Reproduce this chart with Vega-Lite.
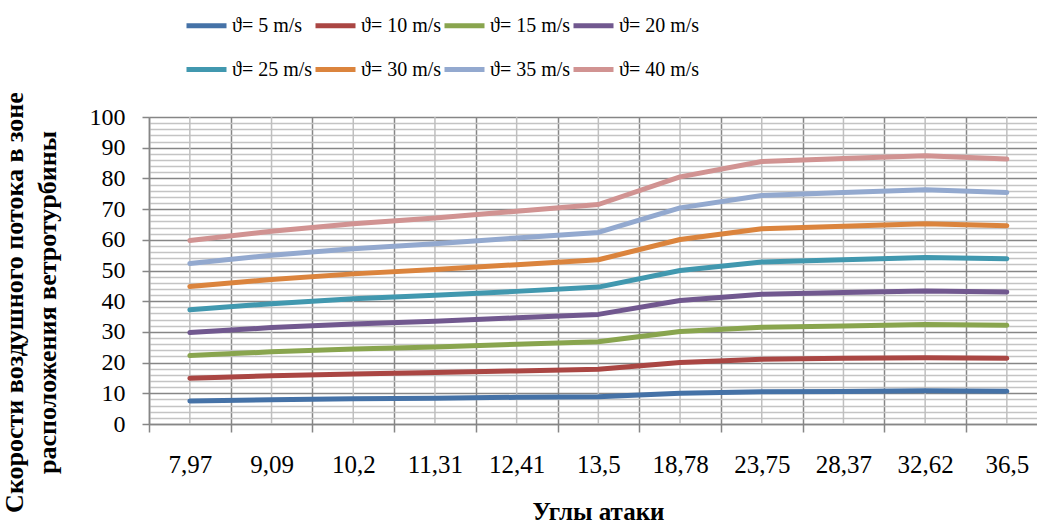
{
  "$schema": "https://vega.github.io/schema/vega-lite/v6.json",
  "autosize": "none",
  "padding": {"left": 149, "top": 117, "right": 0, "bottom": 100},
  "width": 888,
  "height": 307,
  "background": "white",
  "config": {
    "view": {"stroke": null},
    "font": "Liberation Serif",
    "axis": {"labelFont": "Liberation Serif", "titleFont": "Liberation Serif"},
    "legend": {"labelFont": "Liberation Serif, DejaVu Serif, serif"}
  },
  "datasets": {
    "angles": [
      {"angle": "7,97"}, {"angle": "9,09"}, {"angle": "10,2"}, {"angle": "11,31"},
      {"angle": "12,41"}, {"angle": "13,5"}, {"angle": "18,78"}, {"angle": "23,75"},
      {"angle": "28,37"}, {"angle": "32,62"}, {"angle": "36,5"}
    ],
    "speeds": [
      {"angle": "7,97", "series": "ϑ= 5 m/s", "v": 7.5},
      {"angle": "9,09", "series": "ϑ= 5 m/s", "v": 7.9},
      {"angle": "10,2", "series": "ϑ= 5 m/s", "v": 8.2},
      {"angle": "11,31", "series": "ϑ= 5 m/s", "v": 8.4},
      {"angle": "12,41", "series": "ϑ= 5 m/s", "v": 8.7},
      {"angle": "13,5", "series": "ϑ= 5 m/s", "v": 8.9},
      {"angle": "18,78", "series": "ϑ= 5 m/s", "v": 10.0},
      {"angle": "23,75", "series": "ϑ= 5 m/s", "v": 10.5},
      {"angle": "28,37", "series": "ϑ= 5 m/s", "v": 10.6},
      {"angle": "32,62", "series": "ϑ= 5 m/s", "v": 10.8},
      {"angle": "36,5", "series": "ϑ= 5 m/s", "v": 10.7},

      {"angle": "7,97", "series": "ϑ= 10 m/s", "v": 14.9},
      {"angle": "9,09", "series": "ϑ= 10 m/s", "v": 15.7},
      {"angle": "10,2", "series": "ϑ= 10 m/s", "v": 16.3},
      {"angle": "11,31", "series": "ϑ= 10 m/s", "v": 16.8},
      {"angle": "12,41", "series": "ϑ= 10 m/s", "v": 17.3},
      {"angle": "13,5", "series": "ϑ= 10 m/s", "v": 17.8},
      {"angle": "18,78", "series": "ϑ= 10 m/s", "v": 20.0},
      {"angle": "23,75", "series": "ϑ= 10 m/s", "v": 21.1},
      {"angle": "28,37", "series": "ϑ= 10 m/s", "v": 21.4},
      {"angle": "32,62", "series": "ϑ= 10 m/s", "v": 21.6},
      {"angle": "36,5", "series": "ϑ= 10 m/s", "v": 21.4},

      {"angle": "7,97", "series": "ϑ= 15 m/s", "v": 22.3},
      {"angle": "9,09", "series": "ϑ= 15 m/s", "v": 23.5},
      {"angle": "10,2", "series": "ϑ= 15 m/s", "v": 24.4},
      {"angle": "11,31", "series": "ϑ= 15 m/s", "v": 25.1},
      {"angle": "12,41", "series": "ϑ= 15 m/s", "v": 26.0},
      {"angle": "13,5", "series": "ϑ= 15 m/s", "v": 26.8},
      {"angle": "18,78", "series": "ϑ= 15 m/s", "v": 30.1},
      {"angle": "23,75", "series": "ϑ= 15 m/s", "v": 31.5},
      {"angle": "28,37", "series": "ϑ= 15 m/s", "v": 31.9},
      {"angle": "32,62", "series": "ϑ= 15 m/s", "v": 32.4},
      {"angle": "36,5", "series": "ϑ= 15 m/s", "v": 32.2},

      {"angle": "7,97", "series": "ϑ= 20 m/s", "v": 29.8},
      {"angle": "9,09", "series": "ϑ= 20 m/s", "v": 31.4},
      {"angle": "10,2", "series": "ϑ= 20 m/s", "v": 32.6},
      {"angle": "11,31", "series": "ϑ= 20 m/s", "v": 33.5},
      {"angle": "12,41", "series": "ϑ= 20 m/s", "v": 34.6},
      {"angle": "13,5", "series": "ϑ= 20 m/s", "v": 35.7},
      {"angle": "18,78", "series": "ϑ= 20 m/s", "v": 40.2},
      {"angle": "23,75", "series": "ϑ= 20 m/s", "v": 42.3},
      {"angle": "28,37", "series": "ϑ= 20 m/s", "v": 42.8},
      {"angle": "32,62", "series": "ϑ= 20 m/s", "v": 43.3},
      {"angle": "36,5", "series": "ϑ= 20 m/s", "v": 43.0},

      {"angle": "7,97", "series": "ϑ= 25 m/s", "v": 37.2},
      {"angle": "9,09", "series": "ϑ= 25 m/s", "v": 39.2},
      {"angle": "10,2", "series": "ϑ= 25 m/s", "v": 40.8},
      {"angle": "11,31", "series": "ϑ= 25 m/s", "v": 41.9},
      {"angle": "12,41", "series": "ϑ= 25 m/s", "v": 43.2},
      {"angle": "13,5", "series": "ϑ= 25 m/s", "v": 44.6},
      {"angle": "18,78", "series": "ϑ= 25 m/s", "v": 50.0},
      {"angle": "23,75", "series": "ϑ= 25 m/s", "v": 52.8},
      {"angle": "28,37", "series": "ϑ= 25 m/s", "v": 53.5},
      {"angle": "32,62", "series": "ϑ= 25 m/s", "v": 54.2},
      {"angle": "36,5", "series": "ϑ= 25 m/s", "v": 53.8},

      {"angle": "7,97", "series": "ϑ= 30 m/s", "v": 44.8},
      {"angle": "9,09", "series": "ϑ= 30 m/s", "v": 47.1},
      {"angle": "10,2", "series": "ϑ= 30 m/s", "v": 48.9},
      {"angle": "11,31", "series": "ϑ= 30 m/s", "v": 50.3},
      {"angle": "12,41", "series": "ϑ= 30 m/s", "v": 51.9},
      {"angle": "13,5", "series": "ϑ= 30 m/s", "v": 53.5},
      {"angle": "18,78", "series": "ϑ= 30 m/s", "v": 60.1},
      {"angle": "23,75", "series": "ϑ= 30 m/s", "v": 63.6},
      {"angle": "28,37", "series": "ϑ= 30 m/s", "v": 64.4},
      {"angle": "32,62", "series": "ϑ= 30 m/s", "v": 65.2},
      {"angle": "36,5", "series": "ϑ= 30 m/s", "v": 64.6},

      {"angle": "7,97", "series": "ϑ= 35 m/s", "v": 52.3},
      {"angle": "9,09", "series": "ϑ= 35 m/s", "v": 55.0},
      {"angle": "10,2", "series": "ϑ= 35 m/s", "v": 57.1},
      {"angle": "11,31", "series": "ϑ= 35 m/s", "v": 58.7},
      {"angle": "12,41", "series": "ϑ= 35 m/s", "v": 60.6},
      {"angle": "13,5", "series": "ϑ= 35 m/s", "v": 62.4},
      {"angle": "18,78", "series": "ϑ= 35 m/s", "v": 70.4},
      {"angle": "23,75", "series": "ϑ= 35 m/s", "v": 74.4},
      {"angle": "28,37", "series": "ϑ= 35 m/s", "v": 75.4},
      {"angle": "32,62", "series": "ϑ= 35 m/s", "v": 76.3},
      {"angle": "36,5", "series": "ϑ= 35 m/s", "v": 75.4},

      {"angle": "7,97", "series": "ϑ= 40 m/s", "v": 59.8},
      {"angle": "9,09", "series": "ϑ= 40 m/s", "v": 62.8},
      {"angle": "10,2", "series": "ϑ= 40 m/s", "v": 65.2},
      {"angle": "11,31", "series": "ϑ= 40 m/s", "v": 67.1},
      {"angle": "12,41", "series": "ϑ= 40 m/s", "v": 69.3},
      {"angle": "13,5", "series": "ϑ= 40 m/s", "v": 71.5},
      {"angle": "18,78", "series": "ϑ= 40 m/s", "v": 80.5},
      {"angle": "23,75", "series": "ϑ= 40 m/s", "v": 85.5},
      {"angle": "28,37", "series": "ϑ= 40 m/s", "v": 86.5},
      {"angle": "32,62", "series": "ϑ= 40 m/s", "v": 87.4},
      {"angle": "36,5", "series": "ϑ= 40 m/s", "v": 86.3}
    ]
  },
  "layer": [
    {
      "data": {"name": "angles"},
      "mark": {"type": "rule", "color": "#BFBFBF", "strokeWidth": 1.5},
      "encoding": {
        "x": {
          "field": "angle", "type": "nominal", "bandPosition": 0.5,
          "scale": {
            "type": "band",
            "domain": ["7,97", "9,09", "10,2", "11,31", "12,41", "13,5", "18,78", "23,75", "28,37", "32,62", "36,5"],
            "range": [0, 898.7],
            "paddingInner": 0,
            "paddingOuter": 0
          },
          "axis": {
            "title": "Углы атаки",
            "titleFont": "Liberation Serif",
            "titleFontSize": 25,
            "titleFontWeight": "bold",
            "titleColor": "black",
            "titleBaseline": "alphabetic",
            "titleY": 95,
            "titleX": 449,
            "labelFont": "Liberation Serif",
            "labelFontSize": 25,
            "labelColor": "black",
            "labelAngle": 0,
            "labelPadding": 20,
            "tickBand": "extent",
            "tickSize": 8,
            "tickColor": "#868686",
            "tickWidth": 1.5,
            "domainColor": "#868686",
            "domainWidth": 1.5,
            "grid": true,
            "gridColor": "#868686",
            "gridWidth": 1.5
          }
        }
      }
    },
    {
      "data": {"name": "speeds"},
      "mark": {"type": "line", "strokeWidth": 5, "strokeCap": "round", "strokeJoin": "round"},
      "encoding": {
        "x": {"field": "angle", "type": "nominal", "bandPosition": 0.5},
        "y": {
          "field": "v", "type": "quantitative",
          "scale": {"domain": [0, 100], "nice": false, "zero": true},
          "axis": {
            "values": [0,2,4,6,8,10,12,14,16,18,20,22,24,26,28,30,32,34,36,38,40,42,44,46,48,50,52,54,56,58,60,62,64,66,68,70,72,74,76,78,80,82,84,86,88,90,92,94,96,98,100],
            "labelExpr": "datum.value % 10 === 0 ? datum.label : ''",
            "labelFont": "Liberation Serif",
            "labelFontSize": 24,
            "labelColor": "black",
            "labelPadding": 17,
            "tickSize": 7,
            "tickWidth": 1.5,
            "tickColor": {"condition": {"test": "datum.value % 10 === 0", "value": "#868686"}, "value": "transparent"},
            "domainColor": "#868686",
            "domainWidth": 1.5,
            "grid": true,
            "gridWidth": 1.5,
            "gridColor": {"condition": {"test": "datum.value % 10 === 0", "value": "#868686"}, "value": "#C4C4C4"},
            "title": ["Скорости воздушного потока в зоне", "расположения ветротурбины"],
            "titleFont": "Liberation Serif",
            "titleFontSize": 26,
            "titleFontWeight": "bold",
            "titleColor": "black",
            "titleLineHeight": 33,
            "titleAngle": -90,
            "titleBaseline": "top",
            "titleAlign": "center",
            "titleX": -148,
            "titleY": 185
          }
        },
        "color": {
          "field": "series", "type": "nominal",
          "scale": {
            "domain": ["ϑ= 5 m/s", "ϑ= 10 m/s", "ϑ= 15 m/s", "ϑ= 20 m/s", "ϑ= 25 m/s", "ϑ= 30 m/s", "ϑ= 35 m/s", "ϑ= 40 m/s"],
            "range": ["#4572A7", "#AA4643", "#89A54E", "#71588F", "#4198AF", "#DB843D", "#93A9CF", "#D19392"]
          },
          "legend": {
            "title": null,
            "orient": "none",
            "legendX": 35,
            "legendY": -114,
            "direction": "horizontal",
            "columns": 4,
            "gridAlign": "all",
            "padding": 0,
            "symbolType": "stroke",
            "symbolSize": 1600,
            "symbolStrokeWidth": 5,
            "labelFont": "Liberation Serif, DejaVu Serif, serif",
            "labelFontSize": 20,
            "labelColor": "black",
            "labelOffset": 3,
            "labelLimit": 300,
            "columnPadding": -14,
            "rowPadding": 11
          }
        }
      }
    }
  ]
}
